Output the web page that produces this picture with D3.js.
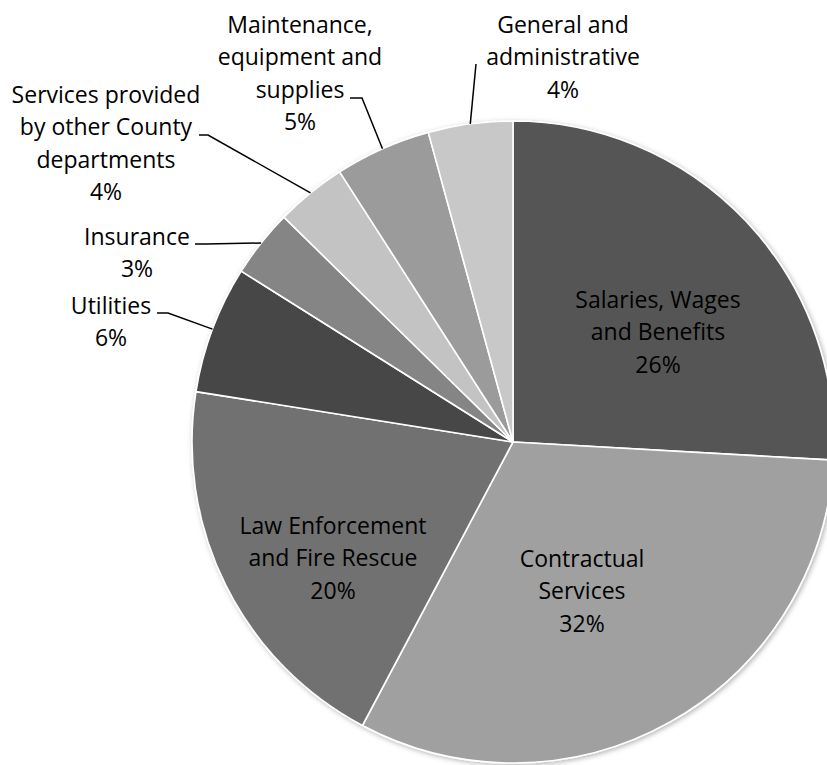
<!DOCTYPE html>
<html>
<head>
<meta charset="utf-8">
<script src="https://cdn.jsdelivr.net/npm/d3@7"></script>
<style>
  body { margin: 0; background: #fff; }
  svg { display: block; }
</style>
</head>
<body>
<div id="viz"></div>
<script>
// expense categories, clockwise from 12 o'clock
var categories = [
  "Salaries, Wages and Benefits",
  "Contractual Services",
  "Law Enforcement and Fire Rescue",
  "Utilities",
  "Insurance",
  "Services provided by other County departments",
  "Maintenance, equipment and supplies",
  "General and administrative"
];

// share of total (percent)
var shares = [25.9, 31.87, 19.74, 6.42, 3.42, 3.57, 4.83, 4.25];

// label text, broken the way the chart breaks it
var labelLines = [
  ["Salaries, Wages", "and Benefits"],
  ["Contractual", "Services"],
  ["Law Enforcement", "and Fire Rescue"],
  ["Utilities"],
  ["Insurance"],
  ["Services provided", "by other County", "departments"],
  ["Maintenance,", "equipment and", "supplies"],
  ["General and", "administrative"]
];

var fills = ["#555555", "#a0a0a0", "#717171", "#464646", "#858585", "#c3c3c3", "#9b9b9b", "#c8c8c8"];

// label layout: centre x, first baseline, and leader start (null = inside slice)
var labelPos = [
  { x: 658, y: 308, lead: null },
  { x: 582, y: 567, lead: null },
  { x: 333, y: 534, lead: null },
  { x: 111, y: 314, lead: [157, 313, 168] },
  { x: 137, y: 245, lead: [195, 244, 206] },
  { x: 106, y: 103, lead: [199, 135, 208] },
  { x: 300, y: 33, lead: [350, 98, 362] },
  { x: 563, y: 33, lead: [476, 64, 476] }
];

var w = 827, h = 765;
var cx = 513, cy = 442, r = 321;
var lineH = 32.3;

var svg = d3.select("div#viz").append("svg")
  .attr("width", w)
  .attr("height", h);

// soft shadow like the spreadsheet pie
var defs = svg.append("defs");
var f = defs.append("filter").attr("id", "shadow")
  .attr("x", "-10%").attr("y", "-10%").attr("width", "120%").attr("height", "120%");
f.append("feDropShadow")
  .attr("dx", 1.5).attr("dy", 1.5).attr("stdDeviation", 2.5)
  .attr("flood-color", "#000").attr("flood-opacity", 0.3);

var pie = d3.pie().sort(null).value(function (d) { return d; });
var arcs = pie(shares);

var arc = d3.arc().innerRadius(0).outerRadius(r);

var g = svg.append("g").attr("transform", "translate(" + cx + "," + cy + ")");

g.append("g").attr("filter", "url(#shadow)")
  .selectAll("path")
  .data(arcs)
  .enter()
  .append("path")
  .attr("d", arc)
  .attr("fill", function (d, i) { return fills[i]; })
  .attr("stroke", "#fff")
  .attr("stroke-width", 1.6)
  .attr("stroke-linejoin", "round");

// leader lines: text -> short horizontal -> slice mid-point on the rim
arcs.forEach(function (d, i) {
  var p = labelPos[i];
  if (!p.lead) return;
  var mid = (d.startAngle + d.endAngle) / 2;
  var ex = cx + r * Math.sin(mid);
  var ey = cy - r * Math.cos(mid);
  var pts = [[p.lead[0], p.lead[1]], [p.lead[2], p.lead[1]], [ex, ey]];
  svg.append("path")
    .attr("d", d3.line()(pts))
    .attr("fill", "none")
    .attr("stroke", "#000")
    .attr("stroke-width", 1.5);
});

// labels
arcs.forEach(function (d, i) {
  var p = labelPos[i];
  var lines = labelLines[i].concat([Math.round(shares[i]) + "%"]);
  var t = svg.append("text")
    .attr("text-anchor", "middle")
    .style("font-family", "'Open Sans', Lato, sans-serif")
    .style("font-size", "23px")
    .attr("fill", "#000");
  lines.forEach(function (s, k) {
    t.append("tspan")
      .attr("x", p.x)
      .attr("y", p.y + k * lineH)
      .text(s);
  });
});
</script>
</body>
</html>
